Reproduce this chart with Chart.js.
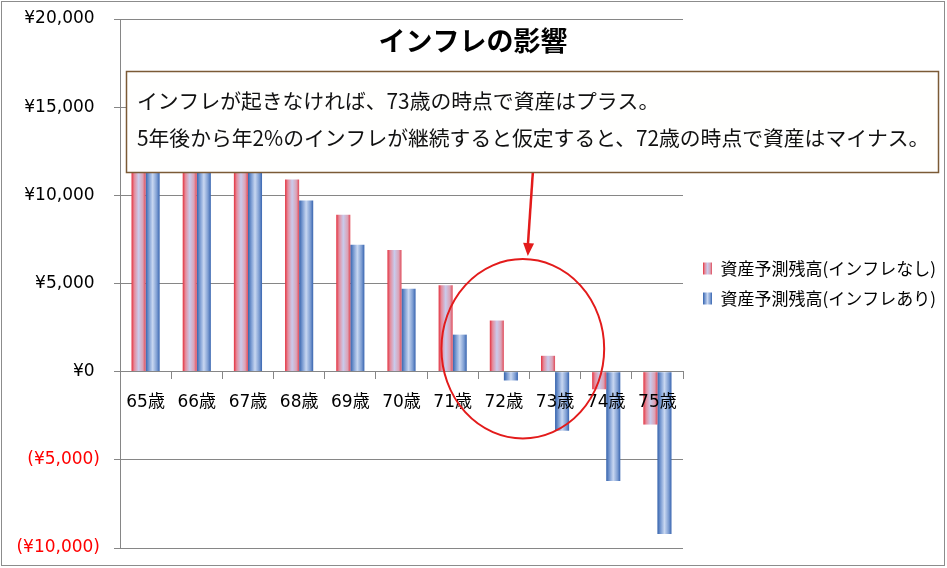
<!DOCTYPE html>
<html>
<head>
<meta charset="utf-8">
<script src="https://cdn.jsdelivr.net/npm/chart.js@4.4.1/dist/chart.umd.min.js"></script>
<style>
html, body { margin: 0; padding: 0; background: #fff; }
</style>
</head>
<body>
<canvas id="chart" width="947" height="568"></canvas>
<script>
// データ
var ages = ['65歳', '66歳', '67歳', '68歳', '69歳', '70歳', '71歳', '72歳', '73歳', '74歳', '75歳'];
var noInflation = [16900, 14900, 12900, 10900, 8900, 6900, 4900, 2900, 900, -1000, -3000];
var withInflation = [16900, 14700, 12200, 9700, 7200, 4700, 2100, -500, -3350, -6200, -9200];
var seriesNames = ['資産予測残高(インフレなし)', '資産予測残高(インフレあり)'];
var yMin = -10000, yMax = 20000, yStep = 5000;
var chartTitle = 'インフレの影響';
var noteLines = [
    'インフレが起きなければ、73歳の時点で資産はプラス。',
    '5年後から年2%のインフレが継続すると仮定すると、72歳の時点で資産はマイナス。'
];

var CAT_PCT = 0.55;
var LEGEND_PAD = 13, LEGEND_BOX = 9;
var numFont = '"DejaVu Sans", "Noto Sans CJK JP", sans-serif';
var jpFont = '"Noto Sans CJK JP", sans-serif';

function yen(v) {
    var s = '¥' + Math.abs(v).toLocaleString('en-US');
    return v < 0 ? '(' + s + ')' : s + ' ';
}

// 左右が濃く中央が明るいグラデーション
function makeGrad(c, x0, w, red) {
    var g = c.createLinearGradient(x0, 0, x0 + w, 0);
    if (red) {
        g.addColorStop(0, '#e3303e');
        g.addColorStop(0.2, '#e58c9c');
        g.addColorStop(0.5, '#c9cbec');
        g.addColorStop(0.8, '#dba4b8');
        g.addColorStop(1, '#e24a58');
    } else {
        g.addColorStop(0, '#3462ac');
        g.addColorStop(0.25, '#7f9fd4');
        g.addColorStop(0.5, '#c8d7f1');
        g.addColorStop(0.8, '#7d9dd2');
        g.addColorStop(1, '#3865b0');
    }
    return g;
}

function barFill(ctx) {
    var chart = ctx.chart, xs = chart.scales.x;
    var red = ctx.datasetIndex === 0;
    if (ctx.type !== 'data' || !xs || !chart.chartArea) {
        return red ? '#e0707e' : '#6f93cc';
    }
    var w = xs.width / ages.length * CAT_PCT / 2;
    var c = xs.getPixelForValue(ctx.dataIndex);
    return makeGrad(chart.ctx, red ? c - w : c, w, red);
}

function noPad(s) {
    s.paddingTop = 0;
    s.paddingBottom = 0;
}

var decor = {
    id: 'decor',
    beforeDraw: function(chart) {
        var c = chart.ctx;
        c.save();
        c.fillStyle = '#fff';
        c.fillRect(0, 0, chart.width, chart.height);
        c.restore();
        // 凡例を少し右へ
        var lg = chart.legend;
        if (!lg._shifted) {
            lg.left += 7;
            lg.right += 7;
            lg._shifted = true;
        }
        var bx = lg.left + LEGEND_PAD;
        lg.legendItems.forEach(function(item, i) {
            item.fillStyle = makeGrad(c, bx, LEGEND_BOX, i === 0);
        });
    },
    afterDraw: function(chart) {
        var c = chart.ctx, xs = chart.scales.x, ys = chart.scales.y;
        c.save();

        // タイトル
        c.fillStyle = '#000';
        c.font = 'bold 27px ' + jpFont;
        c.textAlign = 'center';
        c.textBaseline = 'middle';
        c.fillText(chartTitle, 473, 41);

        // 吹き出し
        c.fillStyle = '#fffffe';
        c.fillRect(126, 71, 813, 102);
        c.strokeStyle = '#7b5a36';
        c.lineWidth = 1.5;
        c.strokeRect(126.5, 71.5, 812, 101);
        c.fillStyle = '#111';
        c.font = '20.8px ' + jpFont;
        c.textAlign = 'left';
        c.fillText(noteLines[0], 137, 101);
        c.fillText(noteLines[1], 137, 138);

        // 丸と矢印
        var cat = xs.width / ages.length;
        var cx = xs.getPixelForValue(7) + cat * 0.37;
        var cy = ys.getPixelForValue(1300);
        var rx = cat * 1.59;
        var ry = ys.getPixelForValue(0) - ys.getPixelForValue(5085);
        c.strokeStyle = '#e31b1b';
        c.lineWidth = 2;
        c.beginPath();
        c.ellipse(cx, cy, rx, ry, 0, 0, Math.PI * 2);
        c.stroke();

        var ax0 = cx + 10, ay0 = 173, ax1 = cx + 5, ay1 = cy - ry - 3;
        c.lineWidth = 2.5;
        c.beginPath();
        c.moveTo(ax0, ay0);
        c.lineTo(ax1, ay1 - 10);
        c.stroke();
        var ang = Math.atan2(ay1 - ay0, ax1 - ax0);
        c.fillStyle = '#e31b1b';
        c.beginPath();
        c.moveTo(ax1, ay1);
        c.lineTo(ax1 - 13 * Math.cos(ang) + 5.5 * Math.sin(ang), ay1 - 13 * Math.sin(ang) - 5.5 * Math.cos(ang));
        c.lineTo(ax1 - 13 * Math.cos(ang) - 5.5 * Math.sin(ang), ay1 - 13 * Math.sin(ang) + 5.5 * Math.cos(ang));
        c.closePath();
        c.fill();

        // 外枠
        c.strokeStyle = '#8c8c8c';
        c.lineWidth = 1;
        c.strokeRect(1.5, 1.5, 943, 564);
        c.restore();
    }
};

new Chart(document.getElementById('chart'), {
    type: 'bar',
    data: {
        labels: ages,
        datasets: [{
            label: seriesNames[0],
            data: noInflation,
            backgroundColor: barFill,
            borderWidth: 0
        }, {
            label: seriesNames[1],
            data: withInflation,
            backgroundColor: barFill,
            borderWidth: 0
        }]
    },
    options: {
        responsive: false,
        animation: false,
        events: [],
        layout: { padding: { top: 19, bottom: 20, left: 0, right: 8 } },
        datasets: { bar: { barPercentage: 1, categoryPercentage: CAT_PCT } },
        scales: {
            x: {
                position: { y: 0 },
                afterFit: noPad,
                grid: { drawOnChartArea: false, offset: true, tickLength: 7, color: '#868686' },
                border: { color: '#868686', z: 1 },
                ticks: { z: 1, color: '#000', padding: 14, maxRotation: 0, autoSkip: false, font: { family: numFont, size: 17 } }
            },
            y: {
                min: yMin,
                max: yMax,
                afterFit: function(s) { s.width = 120; noPad(s); },
                grid: { color: '#868686', tickLength: 6 },
                border: { color: '#868686' },
                ticks: {
                    stepSize: yStep,
                    padding: 14,
                    font: { family: numFont, size: 17 },
                    color: function(ctx) { return ctx.tick && ctx.tick.value < 0 ? '#ff0000' : '#000'; },
                    callback: function(v) { return yen(v); }
                }
            }
        },
        plugins: {
            title: { display: false },
            tooltip: { enabled: false },
            legend: {
                position: 'right',
                maxWidth: 400,
                labels: {
                    boxWidth: LEGEND_BOX,
                    boxHeight: 12,
                    padding: LEGEND_PAD,
                    color: '#000',
                    font: { family: jpFont, size: 17 }
                }
            }
        }
    },
    plugins: [decor]
});
</script>
</body>
</html>
